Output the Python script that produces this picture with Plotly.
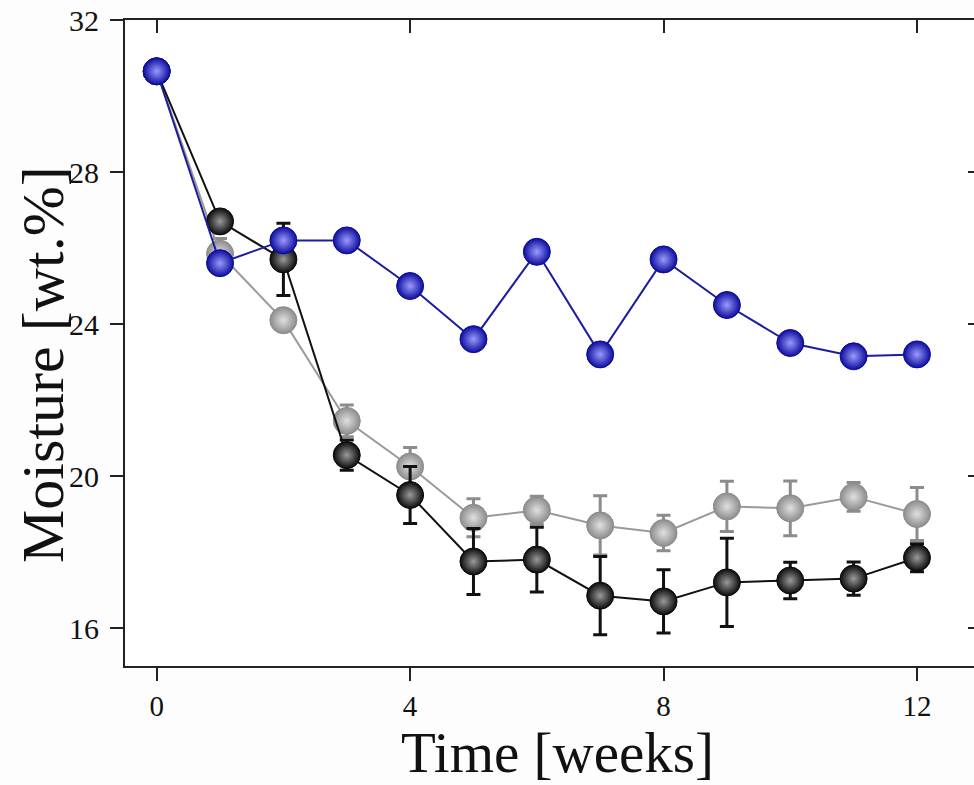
import plotly.graph_objects as go

weeks = [0, 1, 2, 3, 4, 5, 6, 7, 8, 9, 10, 11, 12]
blue_vals = [30.65, 25.6, 26.2, 26.2, 25.0, 23.6, 25.9, 23.2, 25.7, 24.5, 23.5, 23.15, 23.2]
black_vals = [30.65, 26.7, 25.7, 20.55, 19.5, 17.75, 17.8, 16.85, 16.7, 17.2, 17.25, 17.3, 17.85]
black_err = [0.0, 0.2, 0.95, 0.4, 0.75, 0.87, 0.85, 1.03, 0.83, 1.16, 0.48, 0.44, 0.37]
gray_vals = [30.65, 25.85, 24.1, 21.45, 20.25, 18.9, 19.1, 18.7, 18.5, 19.2, 19.15, 19.45, 19.0]
gray_err = [0.0, 0.4, 0.0, 0.42, 0.5, 0.5, 0.37, 0.78, 0.47, 0.66, 0.72, 0.38, 0.7]

x_ticks = [0, 4, 8, 12]
y_ticks = [16, 20, 24, 28, 32]
x_title = "Time [weeks]"
y_title = "Moisture [wt.%]"

FONT = "Liberation Serif"

fig = go.Figure()

def add_series(y, err, line_color, edge, center, bar_color):
    fig.add_trace(go.Scatter(
        x=weeks, y=y, mode="lines+markers",
        line=dict(color=line_color, width=2),
        marker=dict(size=27, color=edge,
                    gradient=dict(type="radial", color=center),
                    line=dict(color=edge, width=1)),
        error_y=dict(type="data", array=err, visible=True,
                     color=bar_color, thickness=3, width=7) if err is not None else None,
        showlegend=False, hoverinfo="skip"))

add_series(gray_vals, gray_err, "#9a9a9a", "#8c8c8c", "#e0e0e0", "#8c8c8c")
add_series(black_vals, black_err, "#111111", "#0a0a0a", "#9a9a9a", "#111111")
add_series(blue_vals, None, "#1c1ca0", "#0c0c9c", "#9a9aff", "#0c0c9c")

# helper trace for mirrored (inside-pointing) top/right ticks
fig.add_trace(go.Scatter(x=weeks, y=blue_vals, xaxis="x2", yaxis="y2",
                         mode="markers", marker=dict(opacity=0),
                         showlegend=False, hoverinfo="skip"))

xr = [-0.5, 12.9]
yr = [15, 32]

fig.update_layout(
    width=974, height=785,
    margin=dict(l=125, r=0, t=20, b=119, autoexpand=False),
    paper_bgcolor="#fdfdfd", plot_bgcolor="#ffffff",
    font=dict(family=FONT, color="#111111"),
    xaxis=dict(range=xr, tickvals=x_ticks, ticks="outside", ticklen=13, tickwidth=2,
               tickcolor="#222", showline=True, linecolor="#222", linewidth=2,
               showgrid=False, zeroline=False, automargin=False, ticklabelstandoff=0,
               ticklabeloverflow="allow",
               tickfont=dict(family=FONT, size=29, color="#111")),
    yaxis=dict(range=yr, tickvals=y_ticks, ticks="outside", ticklen=13, tickwidth=2,
               tickcolor="#222", showline=True, linecolor="#222", linewidth=2,
               showgrid=False, zeroline=False, automargin=False, ticklabelstandoff=5,
               ticklabeloverflow="allow",
               tickfont=dict(family=FONT, size=30, color="#111")),
    xaxis2=dict(range=xr, tickvals=x_ticks, overlaying="x", side="top", ticks="inside",
                ticklen=13, tickwidth=2, tickcolor="#222", showline=True, linecolor="#222",
                linewidth=2, showticklabels=False, showgrid=False, zeroline=False,
                automargin=False),
    yaxis2=dict(range=yr, tickvals=y_ticks, overlaying="y", side="right", ticks="inside",
                ticklen=6, tickwidth=2, tickcolor="#222", showline=False,
                showticklabels=False, showgrid=False, zeroline=False,
                automargin=False),
    annotations=[
        dict(text=x_title, xref="paper", yref="paper", x=0.509, y=-0.134,
             xanchor="center", yanchor="middle", showarrow=False,
             font=dict(family=FONT, size=57, color="#111")),
        dict(text=y_title, xref="paper", yref="paper", x=-0.0966, y=0.4675,
             xanchor="center", yanchor="middle", showarrow=False, textangle=-90,
             font=dict(family=FONT, size=60, color="#111")),
    ],
)

post = ("document.body.style.margin='0';document.body.style.overflow='hidden';"
        "Plotly.relayout('{plot_id}', {width: 974, height: 785});")

fig.write_html("out.html", post_script=post, config={"displayModeBar": False})
